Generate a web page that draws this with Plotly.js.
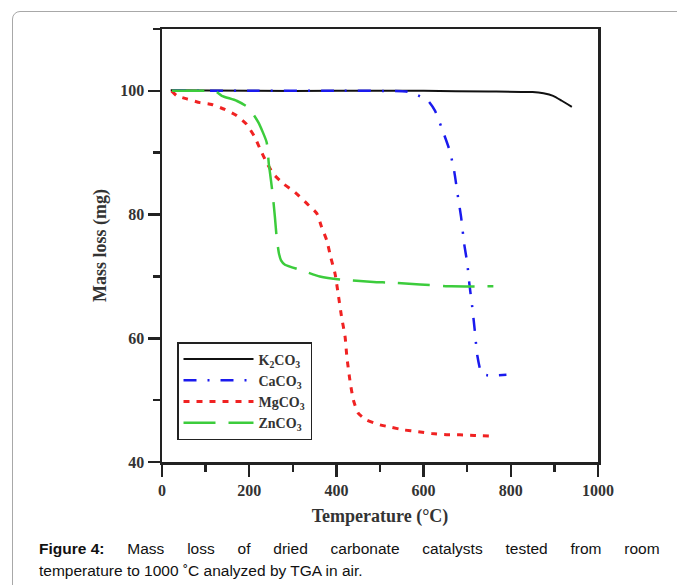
<!DOCTYPE html>
<html>
<head>
<meta charset="utf-8">
<script src="https://cdn.plot.ly/plotly-3.0.1.min.js"></script>
<style>
  html, body { margin: 0; padding: 0; background: #fff; }
  #wrap { position: relative; width: 677px; height: 585px; overflow: hidden; }
  #chart { position: absolute; left: 0; top: 0; width: 677px; height: 585px; }
  #frame { position: absolute; left: 12px; top: 11px; width: 720px; height: 640px;
           border: 1px solid #a8a8a8; border-radius: 8px; pointer-events: none; }
</style>
</head>
<body>
<div id="wrap"><div id="chart"></div><div id="frame"></div></div>
<script>
// ---- data ----
const seriesNames = ['K<sub>2</sub>CO<sub>3</sub>', 'CaCO<sub>3</sub>', 'MgCO<sub>3</sub>', 'ZnCO<sub>3</sub>'];

const k2co3T = [20, 200, 400, 600, 750, 850, 875, 897, 917, 940];
const k2co3M = [100.1, 100, 100, 100, 99.9, 99.8, 99.6, 99.2, 98.4, 97.4];

const caco3T = [25, 200, 400, 560, 580, 610, 626, 641, 660, 670, 679, 686, 693, 700, 705, 712, 718, 723, 733, 748, 790];
const caco3M = [100, 100, 100, 99.9, 99.5, 98.4, 96.8, 94.1, 90.3, 87.1, 82.8, 79.6, 75.3, 72.2, 68.8, 64.8, 60.8, 57.3, 54.3, 54.0, 54.1];

const mgco3T = [22, 34, 57, 87, 114, 144, 171, 194, 213, 225, 240, 255, 278, 305, 332, 355, 366, 378, 387, 397, 404, 412, 420, 424, 431, 439, 450, 469, 500, 527, 553, 588, 619, 653, 683, 716, 757];
const mgco3M = [100, 99.2, 98.7, 98.1, 97.8, 97.0, 96.0, 94.6, 92.5, 90.6, 88.4, 86.6, 85.0, 83.6, 81.8, 80.2, 78.0, 75.8, 73.1, 70.4, 67.2, 63.4, 60.2, 57.0, 53.2, 50.0, 47.9, 46.8, 46.0, 45.6, 45.2, 44.9, 44.6, 44.4, 44.4, 44.3, 44.2];

const znco3T = [23, 60, 100, 125, 137, 171, 198, 221, 240, 245, 250, 255, 259, 263, 268, 273, 282, 320, 362, 408, 485, 523, 592, 664, 760];
const znco3M = [100, 100, 100, 99.8, 99.2, 98.4, 97.3, 94.9, 91.7, 88.2, 85.5, 82.5, 79.6, 76.3, 73.8, 72.6, 71.9, 71.0, 70.0, 69.5, 69.1, 69.0, 68.7, 68.4, 68.4];

const xTickVals = [0, 200, 400, 600, 800, 1000];
const xTickText = ['0', '200', '400', '600', '800', '1000'];
const yTickVals = [40, 60, 80, 100];
const yTickText = ['40', '60', '80', '100'];

const captionBold = 'Figure 4:';
const captionLine1 = 'Mass loss of dried carbonate catalysts tested from room';
const captionLine2 = 'temperature to 1000 ˚C analyzed by TGA in air.';

// ---- styles ----
const serif = 'Liberation Serif, Times New Roman, serif';
const capFont = 'Liberation Sans, Arial, sans-serif';
const axisColor = '#222';

const traces = [
  {x: k2co3T, y: k2co3M, name: seriesNames[0], line: {color: '#111111', width: 2, dash: 'solid'}},
  {x: caco3T, y: caco3M, name: seriesNames[1], line: {color: '#1a1aee', width: 2.5, dash: '13px,11px,2px,11px'}},
  {x: mgco3T, y: mgco3M, name: seriesNames[2], line: {color: '#f02222', width: 3, dash: '6px,7px'}},
  {x: znco3T, y: znco3M, name: seriesNames[3], line: {color: '#3ccc3c', width: 2.5, dash: '32px,13px'}}
].map(t => {
  t.type = 'scatter'; t.mode = 'lines';
  t.line.shape = 'spline'; t.line.smoothing = 0.5;
  return t;
});

// ---- caption: first line justified with non-collapsing spaces ----
const W = 677, H = 585;
const mL = 162, mR = 79, mT = 29, mB = 123;
const plotW = W - mL - mR, plotH = H - mT - mB;
const px2x = p => (p - mL) / plotW;
const py2y = p => (H - mB - p) / plotH;

const capSize = 15.5;
const cv = document.createElement('canvas').getContext('2d');
function measure(txt, bold) {
  cv.font = (bold ? 'bold ' : '') + capSize + 'px ' + capFont;
  return cv.measureText(txt).width;
}
const words1 = captionLine1.split(' ');
const capLeft = 37, capRight = 663;
const boldW = measure(captionBold, true);
const wordsW = words1.reduce((a, w) => a + measure(w, false), 0);
const gapW = (capRight - capLeft - boldW - wordsW) / words1.length;
const nbspW = measure('\u00A0', false), hairW = measure('\u200A', false) || 1;
function filler(target) {
  let s = '', used = 0;
  while (used + nbspW <= target + 0.5) { s += '\u00A0'; used += nbspW; }
  while (used + hairW <= target + 0.5) { s += '\u200A'; used += hairW; }
  return s;
}
const gapStr = filler(gapW);
const line1Text = '<b>' + captionBold + '</b>' + gapStr + words1.join(gapStr);

const annotations = [
  {xref: 'paper', yref: 'paper', x: px2x(capLeft), y: py2y(548), xanchor: 'left', yanchor: 'middle',
   text: line1Text, showarrow: false, font: {family: capFont, size: capSize, color: '#111'}},
  {xref: 'paper', yref: 'paper', x: px2x(capLeft), y: py2y(570), xanchor: 'left', yanchor: 'middle',
   text: captionLine2, showarrow: false, font: {family: capFont, size: capSize, color: '#111'}}
];

const axisCommon = {
  showline: true, mirror: true, linecolor: axisColor, linewidth: 2.5,
  ticks: 'outside', ticklen: 12, tickwidth: 2.5, tickcolor: axisColor,
  showgrid: false, zeroline: false,
  tickfont: {family: serif, size: 16, color: '#333'},
};

const layout = {
  width: W, height: H,
  margin: {l: mL, r: mR, t: mT, b: mB},
  paper_bgcolor: '#ffffff', plot_bgcolor: '#ffffff',
  showlegend: true,
  legend: {
    x: px2x(177), y: py2y(342), xanchor: 'left', yanchor: 'top',
    bgcolor: '#ffffff', bordercolor: axisColor, borderwidth: 1.5,
    font: {family: serif, size: 14, weight: 'bold', color: '#333'},
    itemwidth: 70, tracegroupgap: 0
  },
  xaxis: Object.assign({}, axisCommon, {
    range: [0, 1000], tickmode: 'array', tickvals: xTickVals, ticktext: xTickText.map(s => '<b>' + s + '</b>'),
    minor: {dtick: 100, tick0: 0, ticks: 'outside', ticklen: 7, tickwidth: 2.5, tickcolor: axisColor},
    title: {text: 'Temperature (°C)', font: {family: serif, size: 18, weight: 'bold', color: '#333'}, standoff: 12}
  }),
  yaxis: Object.assign({}, axisCommon, {
    range: [40, 110], tickmode: 'array', tickvals: yTickVals, ticktext: yTickText.map(s => '<b>' + s + '</b>'),
    minor: {dtick: 10, tick0: 40, ticks: 'outside', ticklen: 7, tickwidth: 2.5, tickcolor: axisColor},
    title: {text: 'Mass loss (mg)', font: {family: serif, size: 18, weight: 'bold', color: '#333'}, standoff: 9}
  }),
  annotations: annotations
};

Plotly.newPlot('chart', traces, layout, {staticPlot: true, displayModeBar: false});
</script>
</body>
</html>
